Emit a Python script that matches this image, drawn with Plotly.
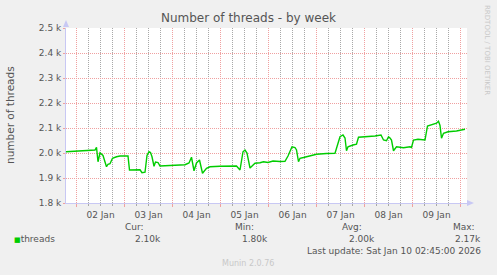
import plotly.graph_objects as go

# ---- data ----
times = [
    "2026-01-01 18:45", "2026-01-02 01:45", "2026-01-02 06:45", "2026-01-02 09:15",
    "2026-01-02 10:00", "2026-01-02 10:45", "2026-01-02 11:45", "2026-01-02 12:30",
    "2026-01-02 13:15", "2026-01-02 15:00", "2026-01-02 15:45", "2026-01-02 16:45",
    "2026-01-02 18:00", "2026-01-02 20:00", "2026-01-02 21:45", "2026-01-03 01:45",
    "2026-01-03 02:30", "2026-01-03 07:45", "2026-01-03 08:45", "2026-01-03 10:15",
    "2026-01-03 11:15", "2026-01-03 12:15", "2026-01-03 13:00", "2026-01-03 13:45",
    "2026-01-03 14:45", "2026-01-03 15:30", "2026-01-03 16:45", "2026-01-03 17:45",
    "2026-01-03 22:45", "2026-01-04 02:45", "2026-01-04 06:15", "2026-01-04 08:15",
    "2026-01-04 09:30", "2026-01-04 10:45", "2026-01-04 12:00", "2026-01-04 13:30",
    "2026-01-04 15:00", "2026-01-04 17:00", "2026-01-04 18:45", "2026-01-04 23:45",
    "2026-01-05 08:00", "2026-01-05 09:45", "2026-01-05 11:15", "2026-01-05 12:15",
    "2026-01-05 13:15", "2026-01-05 14:45", "2026-01-05 17:15", "2026-01-05 19:45",
    "2026-01-05 21:30", "2026-01-05 23:45", "2026-01-06 02:15", "2026-01-06 05:45",
    "2026-01-06 08:15", "2026-01-06 09:45", "2026-01-06 11:45", "2026-01-06 13:15",
    "2026-01-06 14:00", "2026-01-06 15:00", "2026-01-06 15:45", "2026-01-06 17:30",
    "2026-01-06 20:45", "2026-01-07 00:00", "2026-01-07 05:00", "2026-01-07 09:15",
    "2026-01-07 10:30", "2026-01-07 11:45", "2026-01-07 13:15", "2026-01-07 14:15",
    "2026-01-07 15:00", "2026-01-07 15:45", "2026-01-07 18:15", "2026-01-07 20:00",
    "2026-01-07 21:00", "2026-01-08 02:45", "2026-01-08 05:15", "2026-01-08 08:15",
    "2026-01-08 09:30", "2026-01-08 11:00", "2026-01-08 12:00", "2026-01-08 12:45",
    "2026-01-08 13:30", "2026-01-08 14:30", "2026-01-08 16:00", "2026-01-08 19:30",
    "2026-01-08 22:45", "2026-01-08 23:30", "2026-01-09 00:30", "2026-01-09 02:45",
    "2026-01-09 06:15", "2026-01-09 07:30", "2026-01-09 09:30", "2026-01-09 12:00",
    "2026-01-09 13:00", "2026-01-09 13:45", "2026-01-09 14:30", "2026-01-09 15:30",
    "2026-01-09 17:45", "2026-01-09 22:00", "2026-01-10 02:15",
]
threads = [
    2005, 2007, 2010, 2012,
    2023, 1965, 2001, 1995,
    1990, 1945, 1955, 1957,
    1979, 1985, 1988, 1988,
    1932, 1933, 1921, 1923,
    1990, 2005, 2002, 1985,
    1947, 1964, 1962, 1948,
    1951, 1952, 1953, 1960,
    1983, 1929, 1960, 1972,
    1919, 1939, 1945, 1947,
    1948, 1932, 2005, 2012,
    2000, 1940, 1959, 1961,
    1965, 1962, 1968, 1966,
    1967, 1988, 2025, 2022,
    2012, 1965, 1979, 1982,
    1989, 1995, 1998, 1999,
    2032, 2065, 2072, 2060,
    2009, 2025, 2032, 2035,
    2063, 2065, 2068, 2072,
    2052, 2049, 2065, 2060,
    2052, 2009, 2025, 2021,
    2025, 2022, 2052, 2055,
    2052, 2108, 2112, 2119,
    2127, 2110, 2059, 2079,
    2085, 2088, 2095,
]
y_tickvals = [1800, 1900, 2000, 2100, 2200, 2300, 2400, 2500]
y_ticktext = ["1.8 k", "1.9 k", "2.0 k", "2.1 k", "2.2 k", "2.3 k", "2.4 k", "2.5 k"]
series_name = "threads"
stat_labels = ["Cur:", "Min:", "Avg:", "Max:"]
stat_values = ["2.10k", "1.80k", "2.00k", "2.17k"]
last_update = "Last update: Sat Jan 10 02:45:00 2026"
x_range = ["2026-01-01 18:45", "2026-01-10 03:15"]

# ---- layout geometry ----
W, H = 497, 275
L, R, T, B = 66, 30, 28, 72
PW, PH = W - L - R, H - T - B
FONT = "DejaVu Sans"
TXT = "#555555"
RED = "#f0a0a0"
GRAY = "#a8a8a8"
AXIS = "#c8c8f4"
GREEN = "#00cc00"
DOT = "1px,1px"


def px(x):
    return (x - L) / PW


def py(y):
    return (H - B - y) / PH


fig = go.Figure()
fig.add_trace(go.Scatter(x=times, y=threads, mode="lines", name=series_name,
                         line=dict(color=GREEN, width=1.4), showlegend=False,
                         xaxis="x", yaxis="y"))
# helper trace so that the overlay axis (day grid + labels) is drawn
fig.add_trace(go.Scatter(x=times[:1], y=threads[:1], mode="markers",
                         marker=dict(opacity=0), showlegend=False, hoverinfo="skip",
                         xaxis="x2", yaxis="y"))

fig.update_layout(
    width=W, height=H, margin=dict(l=L, r=R, t=T, b=B),
    paper_bgcolor="#f0f0f0", plot_bgcolor="#ffffff",
    font=dict(family=FONT, size=9, color=TXT),
    title=dict(text="Number of threads - by week", x=0.5, xref="container",
               xanchor="center", y=1 - 18 / H, yanchor="middle",
               font=dict(size=12, color=TXT, family=FONT)),
    # 6-hour gray grid
    xaxis=dict(
        type="date", range=x_range,
        tick0="2026-01-02", dtick=6 * 3600 * 1000, showticklabels=False,
        showgrid=True, gridcolor=GRAY, griddash=DOT, gridwidth=1,
        ticks="outside", ticklen=2, tickcolor=GRAY,
        showline=True, linecolor=AXIS, linewidth=1, zeroline=False,
    ),
    # day grid (red) and labels
    xaxis2=dict(
        type="date", range=x_range, overlaying="x", side="bottom", anchor="y",
        tick0="2026-01-02", dtick=86400000, tickformat="%d %b",
        ticklabelmode="period", showgrid=True, gridcolor=RED, griddash=DOT,
        gridwidth=1, ticks="outside", ticklen=3, tickcolor=RED,
        showline=False, zeroline=False,
        tickfont=dict(size=9, color=TXT),
    ),
    yaxis=dict(
        range=[1800, 2500], tickvals=y_tickvals, ticktext=y_ticktext,
        showgrid=True, gridcolor=RED, griddash=DOT, gridwidth=1,
        ticks="outside", ticklen=2, tickcolor=RED,
        showline=True, linecolor=AXIS, linewidth=1, zeroline=False,
        tickfont=dict(size=9, color=TXT),
    ),
)

# axis arrows
fig.add_shape(type="path", xref="paper", yref="paper",
              path=f"M {px(63)} {py(27)} L {px(69)} {py(27)} L {px(66)} {py(20)} Z",
              fillcolor=AXIS, line=dict(width=0))
fig.add_shape(type="path", xref="paper", yref="paper",
              path=f"M {px(467)} {py(200)} L {px(467)} {py(206)} L {px(474)} {py(203)} Z",
              fillcolor=AXIS, line=dict(width=0))


def ann(text, x, y, xanchor="left", size=9, color=TXT, angle=0):
    fig.add_annotation(text=text, x=px(x), y=py(y), xref="paper", yref="paper",
                       xanchor=xanchor, yanchor="middle", showarrow=False,
                       font=dict(size=size, color=color, family=FONT), textangle=angle)


ann("number of threads", 10, 115, xanchor="center", size=10.5, angle=-90)
ann(f"<span style='color:{GREEN};font-size:7px'>■</span>{series_name}", 12, 239)
label_right = [146, 256, 364, 477]
value_right = [163, 270, 377, 483]
for lab, val, xl, xv in zip(stat_labels, stat_values, label_right, value_right):
    ann(lab, xl, 227, xanchor="right")
    ann(val, xv, 239, xanchor="right")
ann(last_update, 483, 251, xanchor="right")
ann("Munin 2.0.76", 248, 263, xanchor="center", color="#c8c8c8", size=8)
ann("RRDTOOL / TOBI OETIKER", 487, 50, xanchor="center", color="#c8c8c8", size=7, angle=90)

fig.write_html("out.html")
